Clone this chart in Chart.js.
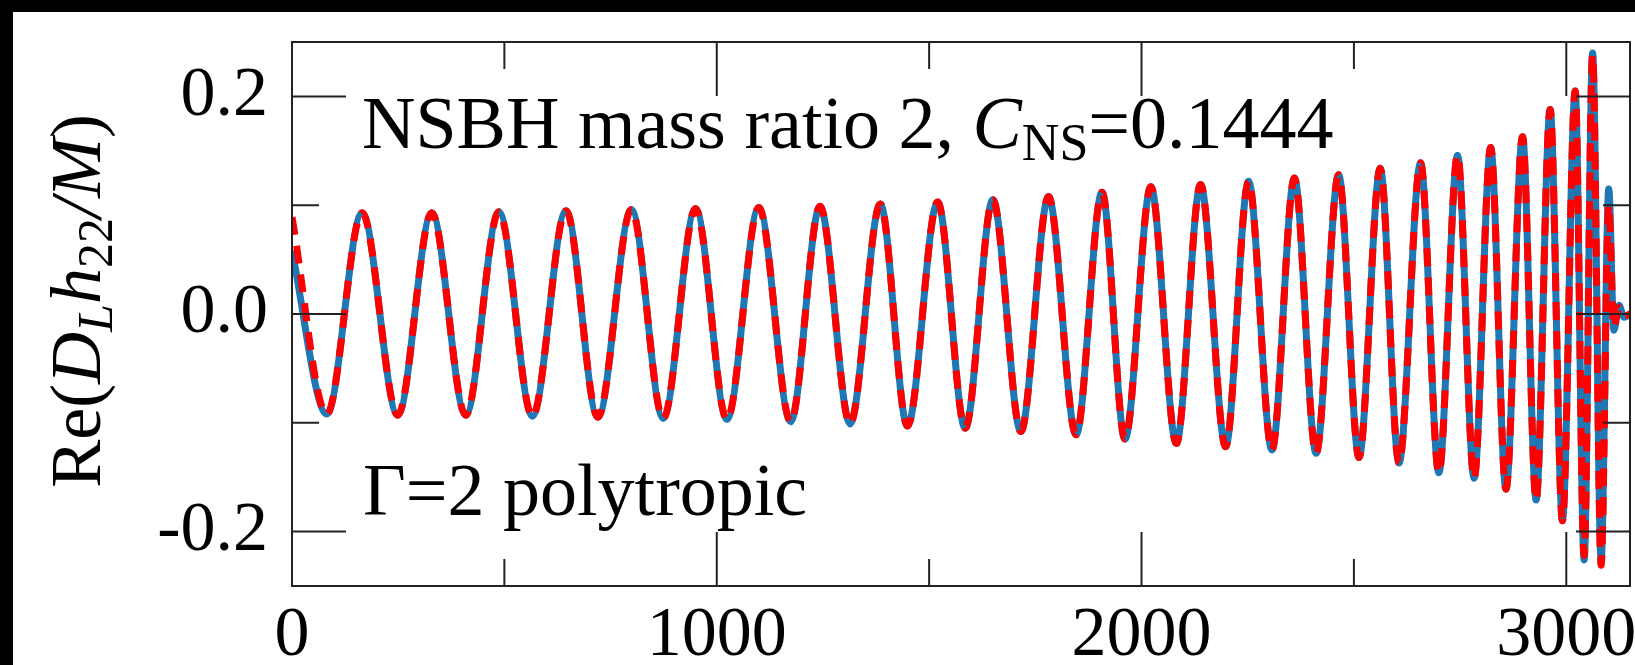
<!DOCTYPE html>
<html>
<head>
<meta charset="utf-8">
<script src="https://cdn.jsdelivr.net/npm/chart.js@4.4.0/dist/chart.umd.min.js"></script>
<style>
  html, body { margin: 0; padding: 0; background: #000; overflow: hidden; width: 1635px; height: 665px; }
  #wrap { position: absolute; left: 13px; top: 12px; width: 1700px; height: 700px; background: #fff; }
</style>
</head>
<body>
<div id="wrap"><canvas id="waveChart" width="1700" height="700"></canvas></div>
<script>
// extrema of the waveform (time in M)
const waveTime = [0, 82, 165, 249, 329, 409, 487, 566, 645, 720, 799, 874, 950, 1024, 1099, 1174,
  1243, 1314, 1385, 1449, 1520, 1585, 1650, 1716, 1781, 1846, 1907, 1961, 2022, 2082, 2139, 2198,
  2252, 2307, 2360, 2411, 2464, 2512, 2562, 2606, 2657, 2700, 2744, 2783, 2822, 2858, 2897, 2929,
  2962, 2991, 3021, 3042, 3062, 3082, 3100, 3112, 3124, 3136, 3150];

// blue solid curve
const nrStrain = [0.058, -0.092, 0.093, -0.093, 0.093, -0.093, 0.094, -0.094, 0.095, -0.095, 0.096, -0.096, 0.097, -0.097, 0.098, -0.099,
  0.099, -0.101, 0.101, -0.103, 0.103, -0.105, 0.105, -0.108, 0.108, -0.111, 0.112, -0.115, 0.117, -0.119, 0.119, -0.122,
  0.122, -0.125, 0.125, -0.128, 0.128, -0.132, 0.134, -0.137, 0.139, -0.146, 0.146, -0.151, 0.153, -0.161, 0.163, -0.171,
  0.188, -0.190, 0.205, -0.226, 0.240, -0.226, 0.115, -0.015, 0.008, -0.003, 0.0];

// red dashed curve
const fitStrain = [0.089, -0.092, 0.093, -0.093, 0.093, -0.093, 0.094, -0.094, 0.095, -0.095, 0.096, -0.096, 0.097, -0.097, 0.098, -0.099,
  0.099, -0.101, 0.101, -0.103, 0.103, -0.105, 0.105, -0.108, 0.108, -0.111, 0.112, -0.115, 0.117, -0.119, 0.119, -0.122,
  0.122, -0.125, 0.125, -0.128, 0.128, -0.132, 0.134, -0.137, 0.139, -0.146, 0.146, -0.151, 0.153, -0.161, 0.163, -0.171,
  0.188, -0.190, 0.205, -0.222, 0.238, -0.231, 0.100, -0.012, 0.006, -0.002, 0.0];

const xMajorTicks = [0, 1000, 2000, 3000];
const xMinorTicks = [500, 1500, 2500];
const yMajorTicks = [-0.2, 0.0, 0.2];
const yMinorTicks = [-0.1, 0.1];

const serif = '"Liberation Serif", "Times New Roman", serif';

const toPoints = (ts, vs) => ts.map((t, i) => ({ x: t, y: vs[i] }));

const drawRuns = (ctx, runs, x, y) => {
  runs.forEach(r => {
    ctx.font = r.font;
    ctx.fillText(r.text, x, y + (r.dy || 0));
    x += ctx.measureText(r.text).width;
  });
  return x;
};

const runsWidth = (ctx, runs) => {
  let w = 0;
  runs.forEach(r => { ctx.font = r.font; w += ctx.measureText(r.text).width; });
  return w;
};

// box with inward ticks on all four sides
const framePlugin = {
  id: 'frame',
  afterDatasetsDraw(chart) {
    const { ctx, chartArea: a, scales: { x, y } } = chart;
    ctx.save();
    ctx.strokeStyle = '#222';
    ctx.lineWidth = 2;
    ctx.strokeRect(a.left, a.top, a.right - a.left, a.bottom - a.top);
    ctx.beginPath();
    const xTick = (v, len) => {
      const px = x.getPixelForValue(v);
      ctx.moveTo(px, a.bottom); ctx.lineTo(px, a.bottom - len);
      ctx.moveTo(px, a.top); ctx.lineTo(px, a.top + len);
    };
    const yTick = (v, len) => {
      const py = y.getPixelForValue(v);
      ctx.moveTo(a.left, py); ctx.lineTo(a.left + len, py);
      ctx.moveTo(a.right, py); ctx.lineTo(a.right - len, py);
    };
    xMajorTicks.forEach(v => xTick(v, 54));
    xMinorTicks.forEach(v => xTick(v, 27));
    yMajorTicks.forEach(v => yTick(v, 54));
    yMinorTicks.forEach(v => yTick(v, 27));
    ctx.stroke();
    ctx.restore();
  }
};

// annotations and the y axis title (italics and subscripts)
const textPlugin = {
  id: 'texts',
  afterDraw(chart) {
    const { ctx, chartArea: a } = chart;
    ctx.save();
    ctx.fillStyle = '#000';
    ctx.textBaseline = 'alphabetic';
    ctx.textAlign = 'left';
    const reg = '74px ' + serif, ita = 'italic 74px ' + serif;
    const sub = '52px ' + serif;

    drawRuns(ctx, [
      { text: 'NSBH mass ratio 2, ', font: reg },
      { text: 'C', font: ita },
      { text: 'NS', font: sub, dy: 12 },
      { text: '=0.1444', font: reg }
    ], a.left + 70, a.top + 106);

    drawRuns(ctx, [{ text: '\u0393=2 polytropic', font: reg }], a.left + 71, a.top + 473);

    const tReg = '72px ' + serif, tIta = 'italic 72px ' + serif;
    const title = [
      { text: 'Re(', font: tReg },
      { text: 'D', font: tIta },
      { text: 'L', font: 'italic 50px ' + serif, dy: 12 },
      { text: 'h', font: tIta },
      { text: '22', font: '50px ' + serif, dy: 12 },
      { text: '/', font: tIta },
      { text: 'M', font: tIta },
      { text: ')', font: tReg }
    ];
    const w = runsWidth(ctx, title);
    ctx.translate(87, (a.top + a.bottom) / 2 - 13);
    ctx.rotate(-Math.PI / 2);
    drawRuns(ctx, title, -w / 2, 0);
    ctx.restore();
  }
};

const ctx = document.getElementById('waveChart').getContext('2d');
const chart = new Chart(ctx, {
  type: 'line',
  data: {
    datasets: [
      {
        label: 'model',
        data: toPoints(waveTime, fitStrain),
        borderColor: 'rgb(255, 0, 0)',
        borderWidth: 7,
        borderDash: [18, 11],
        pointRadius: 0,
        cubicInterpolationMode: 'monotone',
        fill: false,
        order: 0
      },
      {
        label: 'NR',
        data: toPoints(waveTime, nrStrain),
        borderColor: 'rgb(31, 119, 180)',
        borderWidth: 7,
        pointRadius: 0,
        cubicInterpolationMode: 'monotone',
        fill: false,
        order: 1
      }
    ]
  },
  options: {
    responsive: false,
    animation: false,
    devicePixelRatio: 1,
    layout: { padding: { top: 30, right: 83, bottom: 26, left: 0 } },
    plugins: { legend: { display: false }, tooltip: { enabled: false } },
    scales: {
      x: {
        type: 'linear',
        min: 0,
        max: 3150,
        grid: { display: false, drawTicks: false },
        border: { display: false },
        afterBuildTicks: s => { s.ticks = xMajorTicks.map(v => ({ value: v })); },
        afterFit: s => { s.height = 100; s.paddingLeft = 0; s.paddingRight = 0; },
        ticks: {
          autoSkip: false,
          maxRotation: 0,
          padding: 9,
          color: '#000',
          font: { family: serif, size: 70 },
          callback: v => String(v)
        }
      },
      y: {
        type: 'linear',
        min: -0.25,
        max: 0.25,
        grid: { display: false, drawTicks: false },
        border: { display: false },
        afterBuildTicks: s => { s.ticks = yMajorTicks.map(v => ({ value: v })); },
        afterFit: s => { s.width = 279; s.paddingTop = 0; s.paddingBottom = 0; },
        ticks: {
          autoSkip: false,
          padding: 24,
          color: '#000',
          font: { family: serif, size: 70 },
          callback: v => v.toFixed(1)
        }
      }
    }
  },
  plugins: [framePlugin, textPlugin]
});
</script>
</body>
</html>
